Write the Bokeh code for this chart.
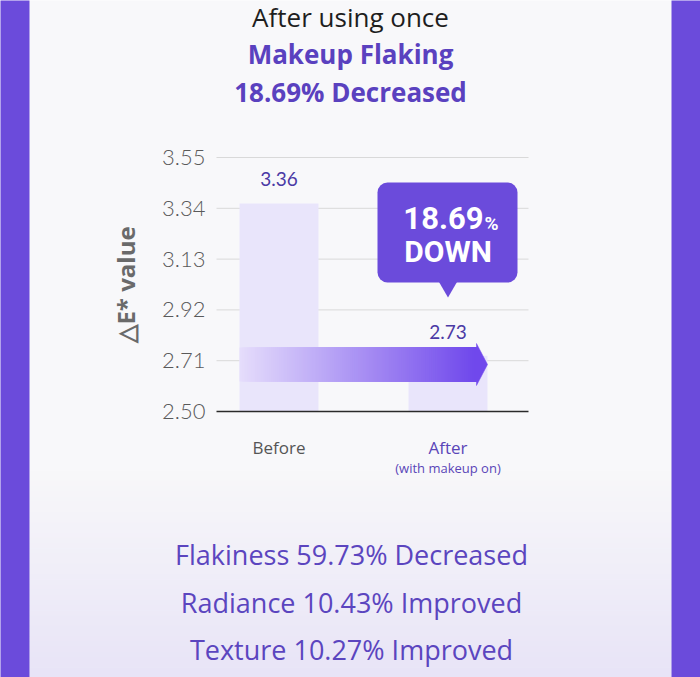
import numpy as np
from bokeh.plotting import figure
from bokeh.models import Range1d, FixedTicker, NumeralTickFormatter
from bokeh.core.properties import value
from bokeh.embed import file_html
from bokeh.resources import INLINE

# ---------------- data ----------------
title_lines = ["After using once", "Makeup Flaking", "18.69% Decreased"]
categories = ["Before", "After"]
values = [3.36, 2.73]
y_ticks = [2.50, 2.71, 2.92, 3.13, 3.34, 3.55]
y_label = "△E* value"
decrease_pct = "18.69"
callout_word = "DOWN"
after_note = "(with makeup on)"
summary_lines = ["Flakiness 59.73% Decreased", "Radiance 10.43% Improved", "Texture 10.27% Improved"]

# ---------------- layout / style ----------------
W, H = 700, 677
BG = "#f8f8fa"
PURPLE = "#6b4bdb"
TXT_PURPLE = "#5a41bf"
Y_PX = 241.905                              # px per y unit
Y0_PX = 411                                 # canvas px of first tick
X_PX = 169.0                                # px per category step
X1_PX = 278.5                               # canvas px of first category
AX_L, AX_R = 216, 528                       # plot area left/right (canvas px)

y_top = y_ticks[0] + Y0_PX / Y_PX
y_bot = y_ticks[0] - (H - Y0_PX) / Y_PX
x_start = 1 - X1_PX / X_PX
x_end = x_start + W / X_PX


def ydat(py):
    return y_top - py / Y_PX


def xdat(px):
    return x_start + px / X_PX


p = figure(width=W, height=H, x_range=Range1d(x_start, x_end), y_range=Range1d(y_bot, y_top),
           output_backend="svg", toolbar_location=None, x_axis_location=None,
           y_axis_location="left", min_border=0,
           background_fill_color=BG, border_fill_color=BG, outline_line_color=None)
p.grid.visible = False

# ---- background decorations ----
g0 = np.array([248, 248, 250])
g1 = np.array([232, 228, 247])
n = 40
gy = np.linspace(470, H, n + 1)
gcols = ["#%02x%02x%02x" % tuple(int(v) for v in (g0 + (g1 - g0) * (i + 0.5) / n)) for i in range(n)]
p.quad(left=xdat(29), right=xdat(671), top=[ydat(v) for v in gy[:-1]],
       bottom=[ydat(v + 0.6) for v in gy[1:]], fill_color=gcols, line_color=None)
p.quad(left=[xdat(-2), xdat(671)], right=[xdat(29), xdat(W + 2)], top=ydat(-2), bottom=ydat(H + 2),
       fill_color=PURPLE, line_color=None)

# ---- axis ----
ax = p.yaxis[0]
ax.fixed_location = xdat(AX_L)
ax.ticker = FixedTicker(ticks=y_ticks)
ax.formatter = NumeralTickFormatter(format="0.00")
ax.axis_line_color = None
ax.major_tick_line_color = None
ax.minor_tick_line_color = None
ax.major_tick_out = 0
ax.major_tick_in = 0
ax.minor_tick_out = 0
ax.major_label_standoff = 11
ax.major_label_text_font = "Lato Light, Lato"
ax.major_label_text_font_size = "22px"
ax.major_label_text_color = "#5a5a5a"

# y-axis title (beside the tick labels, centred on the plotted span)
p.text(x=[xdat(125)], y=[(y_ticks[0] + y_ticks[-1]) / 2], text=[y_label], angle=np.pi / 2,
       text_align="center", text_baseline="middle", text_font=value("Open Sans"),
       text_font_style="bold", text_font_size="24px", text_color="#6a6a6a")

# grid lines over the plot area only
p.segment(x0=xdat(AX_L), x1=xdat(AX_R), y0=y_ticks[1:], y1=y_ticks[1:],
          line_color="#d9d9d9", line_width=1)

# ---- bars ----
xs = [i + 1 for i in range(len(categories))]
bw = 79 / X_PX
p.vbar(x=xs, top=values, bottom=y_ticks[0], width=bw, fill_color="#e9e5fb", line_color=None)
p.segment(x0=xdat(AX_L), x1=xdat(AX_R), y0=y_ticks[0], y1=y_ticks[0],
          line_color="#2a2a2a", line_width=1.5)

# ---- gradient arrow from Before to After ----
ya = ydat(364)
hb = 17 / Y_PX
hh = 21 / Y_PX
head = 11 / X_PX
ax0 = xs[0] - bw / 2
ax_tip = xs[1] + bw / 2
ax_hb = ax_tip - head
c0 = np.array([229, 221, 252])
c1 = np.array([112, 72, 236])
m = 120
edges = np.linspace(ax0, ax_hb, m + 1)
cols = ["#%02x%02x%02x" % tuple(int(v) for v in (c0 + (c1 - c0) * k / (m - 1))) for k in range(m)]
# overlapping slices (each runs to the arrow head) avoid seams between neighbours
p.quad(left=edges[:-1], right=ax_hb + 0.003, top=ya + hb, bottom=ya - hb,
       fill_color=cols, line_color=None)
p.patch([ax_hb, ax_hb, ax_tip], [ya + hh, ya - hh, ya],
        fill_color=cols[-1], line_color=cols[-1], line_width=0.5)

# value labels
p.text(x=xs, y=values, text=["%.2f" % v for v in values], y_offset=-24,
       text_align="center", text_baseline="middle", text_font=value("Lato"),
       text_font_size="19px", text_color="#4b3aa5")

# ---- callout ----
cb_l, cb_r = xdat(377), xdat(517)
cb_t, cb_b = ydat(182), ydat(282)
p.quad(left=[cb_l], right=[cb_r], top=[cb_t], bottom=[cb_b], border_radius=10,
       fill_color=PURPLE, line_color=None)
tw = 9 / X_PX
p.patch([xs[1] - tw, xs[1] + tw, xs[1]], [cb_b + 0.002, cb_b + 0.002, ydat(297)],
        fill_color=PURPLE, line_color=None)
p.text(x=[xdat(483)], y=[ydat(217)], text=[decrease_pct], text_align="right",
       text_baseline="middle", text_font=value("Roboto"), text_font_style="bold",
       text_font_size="31px", text_color="white")
p.text(x=[xdat(484)], y=[ydat(223)], text=["%"], text_align="left",
       text_baseline="middle", text_font=value("Roboto"), text_font_style="bold",
       text_font_size="19px", text_color="white")
p.text(x=[xs[1]], y=[ydat(251)], text=[callout_word], text_align="center",
       text_baseline="middle", text_font=value("Roboto"), text_font_style="bold",
       text_font_size="30px", text_color="white")

# ---- category labels ----
p.text(x=xs, y=[ydat(447)] * len(xs), text=categories, text_align="center",
       text_baseline="middle", text_font=value("Open Sans"), text_font_size="17px",
       text_color=["#555555", "#5a46b8"])
p.text(x=[xs[1]], y=[ydat(467)], text=[after_note], text_align="center",
       text_baseline="middle", text_font=value("Open Sans"), text_font_size="13px",
       text_color="#5a46b8")

# ---- titles ----
cx = xdat(350)
tstyle = [("normal", "26px", "#1e1e1e", 16), ("bold", "26px", TXT_PURPLE, 53),
          ("bold", "26px", TXT_PURPLE, 91)]
for line, (fs, sz, col, mid) in zip(title_lines, tstyle):
    p.text(x=[cx], y=[ydat(mid)], text=[line], text_align="center", text_baseline="middle",
           text_font=value("Open Sans"), text_font_style=fs, text_font_size=sz, text_color=col)

# ---- summary lines ----
p.text(x=[xdat(351)] * len(summary_lines), y=[ydat(b) for b in [554, 602, 649]],
       text=summary_lines, text_align="center", text_baseline="middle",
       text_font=value("Open Sans"), text_font_size="27px", text_color="#5b45bf")

open("out.html", "w").write(file_html(p, INLINE))
